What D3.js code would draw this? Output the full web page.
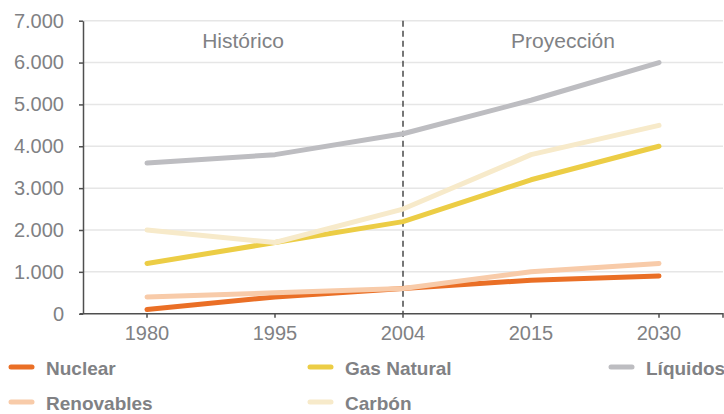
<!DOCTYPE html>
<html>
<head>
<meta charset="utf-8">
<script src="https://cdn.jsdelivr.net/npm/d3@7"></script>
<style>
  body { margin: 0; background: #fff; }
  text { font-family: "Liberation Sans", Arial, sans-serif; }
</style>
</head>
<body>
<svg id="chart" width="724" height="414"></svg>
<script>
// data
const years = ["1980", "1995", "2004", "2015", "2030"];
const nuclear = [100, 400, 600, 800, 900];
const gasNatural = [1200, 1700, 2200, 3200, 4000];
const liquidos = [3600, 3800, 4300, 5100, 6000];
const renovables = [400, 500, 600, 1000, 1200];
const carbon = [2000, 1700, 2500, 3800, 4500];
const yTicks = [0, 1000, 2000, 3000, 4000, 5000, 6000, 7000];
const periods = ["Histórico", "Proyección"];

const series = [
  { name: "Nuclear", values: nuclear, color: "#ea6f26" },
  { name: "Gas Natural", values: gasNatural, color: "#eccd45" },
  { name: "Líquidos", values: liquidos, color: "#bdbdc1" },
  { name: "Renovables", values: renovables, color: "#f8cba9" },
  { name: "Carbón", values: carbon, color: "#f7eaca" }
];

const svg = d3.select("#chart");
const textColor = "#808184";
const axisColor = "#4f4f4f";

const x = d3.scaleBand()
    .domain(years)
    .range([83, 723]);

const y = d3.scaleLinear()
    .domain([0, 7000])
    .range([313.7, 20.7]);

const cx = d => x(d) + x.bandwidth() / 2;

const locale = d3.formatLocale({ decimal: ",", thousands: ".", grouping: [3], currency: ["", "€"] });
const fmt = locale.format(",");

// gridlines
svg.append("g")
  .selectAll("line")
  .data(yTicks.filter(d => d > 0))
  .enter()
  .append("line")
    .attr("x1", 83)
    .attr("x2", 723)
    .attr("y1", d => y(d))
    .attr("y2", d => y(d))
    .attr("stroke", "#e6e6e6")
    .attr("stroke-width", 1.5);

// period labels
svg.append("g")
  .selectAll("text")
  .data(periods)
  .enter()
  .append("text")
    .attr("x", (d, i) => i === 0 ? (83 + cx("2004")) / 2 : (cx("2004") + 723) / 2)
    .attr("y", 48)
    .attr("text-anchor", "middle")
    .attr("fill", textColor)
    .attr("font-size", 21)
    .text(d => d);

// y axis
const yAxis = svg.append("g")
    .attr("transform", "translate(83,0)")
    .call(d3.axisLeft(y).tickValues(yTicks).tickFormat(fmt).tickSize(4).tickSizeOuter(0).tickPadding(15));
yAxis.select(".domain").attr("stroke", axisColor).attr("stroke-width", 1.5);
yAxis.selectAll(".tick line").attr("stroke", axisColor).attr("stroke-width", 1.5);
yAxis.selectAll(".tick text")
    .attr("fill", textColor)
    .attr("font-size", 20)
    .attr("font-family", "Liberation Sans, Arial, sans-serif");

// x axis
const xAxis = svg.append("g")
    .attr("transform", `translate(0,${y(0)})`)
    .call(d3.axisBottom(x).tickSize(4).tickSizeOuter(4).tickPadding(8));
xAxis.select(".domain").attr("stroke", axisColor).attr("stroke-width", 1.5)
    .attr("d", "M80,0H723V4");
xAxis.selectAll(".tick line").attr("stroke", axisColor).attr("stroke-width", 1.5);
xAxis.selectAll(".tick text")
    .attr("fill", textColor)
    .attr("font-size", 20)
    .attr("font-family", "Liberation Sans, Arial, sans-serif");

// divider between history and projection
svg.append("line")
    .attr("x1", cx("2004"))
    .attr("x2", cx("2004"))
    .attr("y1", y(7000))
    .attr("y2", y(0))
    .attr("stroke", "#4a4a4a")
    .attr("stroke-width", 1.5)
    .attr("stroke-dasharray", "6,4");

// lines
const line = d3.line()
    .x((d, i) => cx(years[i]))
    .y(d => y(d));

svg.append("g")
  .selectAll("path")
  .data(series)
  .enter()
  .append("path")
    .attr("d", d => line(d.values))
    .attr("fill", "none")
    .attr("stroke", d => d.color)
    .attr("stroke-width", 5)
    .attr("stroke-linecap", "round")
    .attr("stroke-linejoin", "round");

// legend
const legendPos = [[9, 367], [308, 367], [609, 367], [9, 402], [308, 402]];
const legend = svg.append("g")
  .selectAll("g")
  .data(series)
  .enter()
  .append("g")
    .attr("transform", (d, i) => `translate(${legendPos[i][0]},${legendPos[i][1]})`);

legend.append("line")
    .attr("x1", 2)
    .attr("x2", 23)
    .attr("stroke", d => d.color)
    .attr("stroke-width", 5)
    .attr("stroke-linecap", "round");

legend.append("text")
    .attr("x", 37)
    .attr("y", 8)
    .attr("fill", textColor)
    .attr("font-size", 19)
    .attr("font-weight", "bold")
    .text(d => d.name);
</script>
</body>
</html>
